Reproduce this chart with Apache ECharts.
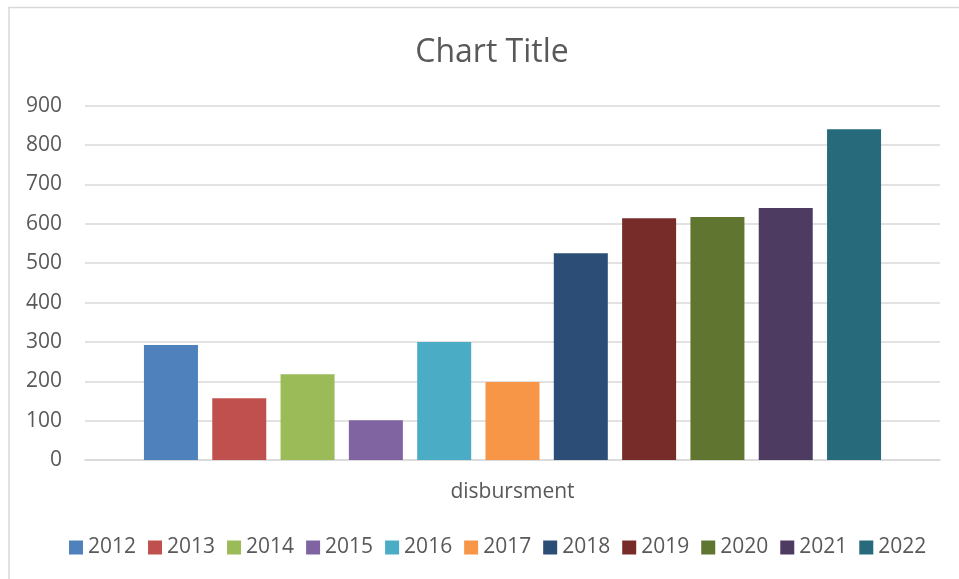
<!DOCTYPE html>
<html>
<head>
<meta charset="utf-8">
<script src="https://cdn.jsdelivr.net/npm/echarts@6/dist/echarts.min.js"></script>
<style>
  html, body { margin: 0; padding: 0; background: #fff; }
  #main { width: 959px; height: 579px; }
</style>
</head>
<body>
<div id="main"></div>
<script>
  // data
  var categories = ['disbursment'];
  var years = ['2012', '2013', '2014', '2015', '2016', '2017', '2018', '2019', '2020', '2021', '2022'];
  var values = [292, 157, 218, 101, 300, 198, 525, 614, 617, 640, 840];
  var colors = ['#4f81bd', '#c0504d', '#9bbb59', '#8064a2', '#4bacc6', '#f79646',
    '#2c4d75', '#772c2a', '#5f7530', '#4d3b62', '#276a7c'];
  var yTicks = { min: 0, max: 900, interval: 100 };

  var font = '"Open Sans", "Noto Sans", sans-serif';
  var textColor = '#595959';

  var myChart = echarts.init(document.getElementById('main'));

  var series = years.map(function (y, i) {
    return {
      name: y,
      type: 'bar',
      data: [values[i]],
      barWidth: 54,
      barGap: '26.5%',
      itemStyle: { color: colors[i] }
    };
  });

  var option = {
    animation: false,
    color: colors,
    title: {
      text: 'Chart Title',
      left: 487,
      top: 32,
      textAlign: 'center',
      textStyle: { fontFamily: font, fontSize: 32, fontWeight: 'normal', color: textColor }
    },
    graphic: [{
      type: 'rect',
      shape: { x: 9, y: 7.5, width: 1000, height: 1000 },
      style: { fill: 'none', stroke: '#d9d9d9', lineWidth: 1.5 },
      silent: true
    }],
    legend: {
      data: years,
      left: 69,
      top: 537,
      padding: 0,
      itemWidth: 14,
      itemHeight: 14,
      itemGap: 12,
      icon: 'rect',
      textStyle: { fontFamily: font, fontSize: 21, color: textColor }
    },
    grid: { left: 85, right: 19, top: 105.7, bottom: 119, containLabel: false },
    xAxis: {
      type: 'category',
      data: categories,
      axisLine: { lineStyle: { color: '#d9d9d9', width: 1.5 } },
      axisTick: { show: false },
      axisLabel: { margin: 22, fontFamily: font, fontSize: 21, color: textColor }
    },
    yAxis: {
      type: 'value',
      min: yTicks.min,
      max: yTicks.max,
      interval: yTicks.interval,
      axisLine: { show: false },
      axisTick: { show: false },
      splitLine: { lineStyle: { color: '#d9d9d9', width: 1.5 } },
      axisLabel: { margin: 23, fontFamily: font, fontSize: 21, color: textColor }
    },
    series: series
  };

  myChart.setOption(option);
</script>
</body>
</html>
